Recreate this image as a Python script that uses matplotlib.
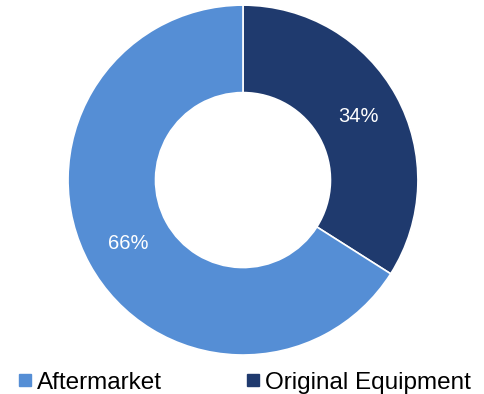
import matplotlib.pyplot as plt
from matplotlib.lines import Line2D

plt.rcParams['font.family'] = ['Liberation Sans', 'DejaVu Sans']

labels = ['Original Equipment', 'Aftermarket']
shares = [34, 66]
colors = ['#1F3A6E', '#558ED5']

fig = plt.figure(figsize=(4.85, 3.94), dpi=100)
ax = fig.add_axes([0.140, 0.099, 0.722, 0.888])

wedges, texts, autotexts = ax.pie(
    shares, colors=colors, startangle=90, counterclock=False,
    radius=1.0, autopct='%d%%', pctdistance=0.75,
    wedgeprops=dict(width=0.5, edgecolor='white', linewidth=1.2),
    textprops=dict(color='white', fontsize=14.5))
ax.set_xlim(-1, 1)
ax.set_ylim(-1, 1)
ax.set_aspect('equal')

handles = [Line2D([], [], marker='s', ls='', color=colors[1], markersize=8),
           Line2D([], [], marker='s', ls='', color=colors[0], markersize=8)]
fig.legend(handles, ['Aftermarket', 'Original Equipment'], loc='lower center',
           bbox_to_anchor=(0.5, -0.055), ncol=2, frameon=False, fontsize=17.5,
           handletextpad=0.05, columnspacing=3.3, handlelength=0.9)

fig.savefig('out.png', dpi=100)
